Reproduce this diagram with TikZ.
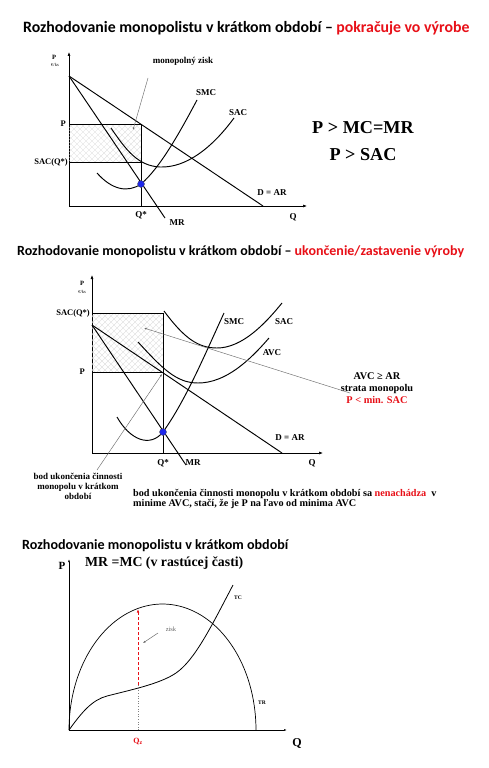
\documentclass[tikz,border=0pt]{standalone}
\usepackage{fontspec}
\setmainfont{Liberation Serif}
\newfontfamily\titlefont{Carlito}
\usetikzlibrary{arrows.meta}
\definecolor{redt}{RGB}{232,16,24}
\definecolor{dotblue}{RGB}{30,40,235}
\begin{document}
\begin{tikzpicture}[x=1pt,y=-1pt,
  curve/.style={line width=0.95pt},
  axisline/.style={line width=0.6pt,-{Latex[length=4pt,width=3pt]}},
  thin/.style={line width=0.6pt},
  leader/.style={line width=0.45pt,draw=gray!85!black},
  hatchline/.style={line width=0.35pt,draw=gray!28},
  lbl/.style={font=\bfseries\fontsize{9}{10}\selectfont,inner sep=0pt},
  small/.style={font=\fontsize{6.5}{7}\selectfont,inner sep=0pt},
  tiny/.style={font=\bfseries\fontsize{5}{6}\selectfont,inner sep=0pt},
  big/.style={font=\bfseries\fontsize{18.2}{20}\selectfont,inner sep=0pt},
  mid/.style={font=\bfseries\fontsize{10.3}{12}\selectfont,inner sep=0pt,align=center},
  note/.style={font=\bfseries\fontsize{9}{9.8}\selectfont,inner sep=0pt},
  ttl/.style={font=\titlefont\bfseries,inner sep=0pt,anchor=west},
  dot/.style={circle,fill=dotblue,draw=black!70,line width=0.3pt,inner sep=0pt,minimum size=7pt}]
\useasboundingbox[fill=white] (0,0) rectangle (488,768);

% ---------------- Title 1
\node[ttl,font=\titlefont\bfseries\fontsize{15.8}{17}\selectfont] (t1) at (23,28)
  {Rozhodovanie monopolistu v krátkom období – \textcolor{redt}{pokračuje vo výrobe}};

% ---------------- Graph 1
\coordinate (o1) at (69,206);
\coordinate (y1) at (69,52);
\coordinate (x1) at (307,206);
\draw[axisline] (o1) -- (y1);
\draw[axisline] (o1) -- (x1);
\node[small] (p1) at (54,57) {\bfseries P};
\node[tiny,font=\fontsize{4.5}{5}\selectfont] (e1) at (55,65) {€/ks};
% hatched rectangle
\begin{scope}
  \clip (69,124) rectangle (141,162);
  \foreach \k in {-60,-54,...,160} {
    \draw[hatchline] (69+\k,124) -- ++(40,40);
    \draw[hatchline] (69+\k,164) -- ++(40,-40);
  }
\end{scope}
\coordinate (a1) at (69,76);
\coordinate (d1) at (263,206);
\coordinate (m1) at (165,218);
\draw[curve] (a1) -- (d1);
\draw[curve] (a1) -- (m1);
\coordinate (pl1) at (69,124);
\coordinate (pr1) at (141,124);
\coordinate (sl1) at (69,162);
\coordinate (sr1) at (141,162);
\coordinate (q1) at (141,206);
\draw[thin] (pl1) -- (pr1) -- (q1);
\draw[thin] (sl1) -- (sr1);
% SMC
\draw[curve] (97,173) .. controls (112,190) and (128,193) .. (141,184) .. controls (160,168) and (180,132) .. (197,100);
% SAC
\draw[curve] (111,128) .. controls (126,150) and (138,166) .. (160,167) .. controls (186,168) and (212,148) .. (234,118);
\node[dot] (b1) at (141,184) {};
\node[lbl,anchor=east] (lp1) at (66,124) {\fontsize{8.5}{9}\selectfont P};
\node[lbl,anchor=east] (ls1) at (68,162) {\fontsize{8.5}{9}\selectfont SAC(Q*)};
\node[lbl] (lq1) at (141,215) {Q*};
\node[lbl] (lmr1) at (177,223) {MR};
\node[lbl] (lq1b) at (293,217) {Q};
\node[lbl] (ld1) at (272,193) {D = AR};
\node[lbl] (lsmc1) at (206,93) {SMC};
\node[lbl] (lsac1) at (238,113) {SAC};
\node[lbl] (mz) at (183,61) {monopolný zisk};
\coordinate (mzs) at (148,78);
\coordinate (mze) at (133,130);
\draw[leader,-{Latex[length=2.5pt,width=2pt]}] (mzs) -- (mze);
\node[big] (c1) at (363,128) {P > MC=MR};
\node[big] (c2) at (363,155) {P > SAC};

% ---------------- Title 2
\node[ttl,font=\titlefont\bfseries\fontsize{14}{16}\selectfont] (t2) at (17,252)
  {Rozhodovanie monopolistu v krátkom období – \textcolor{redt}{ukončenie/zastavenie výroby}};

% ---------------- Graph 2
\coordinate (o2) at (92,453);
\coordinate (y2) at (92,275);
\coordinate (x2) at (323,453);
\draw[axisline] (o2) -- (y2);
\draw[axisline] (o2) -- (x2);
\node[small] (p2) at (82,283) {\bfseries P};
\node[tiny,font=\fontsize{4.5}{5}\selectfont] (e2) at (82,292) {€/ks};
\begin{scope}
  \clip (92,313) rectangle (163,372);
  \foreach \k in {-80,-74,...,180} {
    \draw[hatchline] (92+\k,313) -- ++(60,60);
    \draw[hatchline] (92+\k,373) -- ++(60,-60);
  }
\end{scope}
\coordinate (a2) at (92,325);
\coordinate (d2) at (282,453);
\coordinate (m2) at (186,465);
\draw[curve] (a2) -- (d2);
\draw[curve] (a2) -- (m2);
\coordinate (sl2) at (92,313);
\coordinate (sr2) at (163,313);
\coordinate (pl2) at (92,372);
\coordinate (pr2) at (163,372);
\coordinate (q2) at (163,453);
\draw[thin] (sl2) -- (sr2) -- (q2);
\draw[thin] (pl2) -- (pr2);
% SMC
\draw[curve] (117,417) .. controls (130,440) and (150,448) .. (163,432) .. controls (186,400) and (206,352) .. (224,313);
% SAC
\draw[curve] (164,311) .. controls (184,338) and (198,348) .. (217,348) .. controls (242,348) and (265,324) .. (282,303);
% AVC
\draw[curve] (138,342) .. controls (162,368) and (176,383) .. (198,383) .. controls (226,383) and (250,360) .. (269,338);
\node[dot] (b2) at (163,432) {};
\node[lbl,anchor=east] (lsa2) at (90,313) {\fontsize{8.5}{9}\selectfont SAC(Q*)};
\node[lbl,anchor=east] (lp2) at (85,372) {\fontsize{8.5}{9}\selectfont P};
\node[lbl] (lsmc2) at (234,322) {SMC};
\node[lbl] (lsac2) at (284,322) {SAC};
\node[lbl] (lavc2) at (272,353) {AVC};
\node[lbl] (ld2) at (290,438) {D = AR};
\node[lbl] (lmr2) at (193,463) {MR};
\node[lbl] (lq2) at (163,463) {Q*};
\node[lbl] (lqq2) at (312,463) {Q};
\node[mid] (s1) at (377,388) {AVC ≥ AR\\strata monopolu\\\textcolor{redt}{P < min. SAC}};
\coordinate (hs) at (350,393);
\coordinate (he) at (144,328);
\draw[leader,-{Latex[length=2.5pt,width=2pt]}] (hs) -- (he);
\coordinate (bs) at (97,470);
\coordinate (be) at (162,374);
\draw[leader,-{Latex[length=2.5pt,width=2pt]}] (bs) -- (be);
\node[note,align=center,anchor=north] (bl) at (78,473) {bod ukončenia činnosti\\monopolu v krátkom\\období};
\node[note,align=left,anchor=north west,font=\bfseries\fontsize{10.2}{10}\selectfont] (br) at (133,489) {bod ukončenia činnosti monopolu v krátkom období sa \textcolor{redt}{nenachádza}\ \ v\\minime AVC, stačí, že je P na ľavo od minima AVC};

% ---------------- Title 3
\node[ttl,font=\titlefont\bfseries\fontsize{14.1}{16}\selectfont] (t3) at (22,546)
  {Rozhodovanie monopolistu v krátkom období};

% ---------------- Graph 3
\coordinate (o3) at (69,730);
\coordinate (y3) at (69,559);
\coordinate (x3) at (287,730);
\draw[thin,-{Latex[length=3pt,width=2pt]}] (o3) -- (y3);
\draw[thin,-{Latex[length=3pt,width=2pt]}] (o3) -- (x3);
\node[lbl,font=\bfseries\fontsize{11}{12}\selectfont] (p3) at (62,566) {P};
\node[lbl,font=\bfseries\fontsize{13.8}{15}\selectfont,anchor=west] (h3) at (85,563) {MR =MC (v rastúcej časti)};
% TR
\draw[line width=0.7pt] plot[domain=180:0,samples=80] ({162.5+93.5*cos(\x)},{730-126*sin(\x)});
% TC
\draw[line width=0.8pt] (o3) .. controls (82,712) and (92,700) .. (107,696) .. controls (130,690) and (160,684) .. (176,673) .. controls (195,660) and (212,625) .. (233,585);
\coordinate (zt) at (138,609);
\coordinate (zb) at (138,685);
\coordinate (zq) at (138,730);
\draw[redt,line width=0.9pt,dashed,dash pattern=on 3pt off 2pt,-{Latex[length=3.5pt,width=2.5pt]}] (zb) -- (zt);
\draw[gray,line width=0.6pt,dotted] (zq) -- (zb);
\node[tiny,font=\bfseries\fontsize{5.5}{6}\selectfont] (tc) at (238,598) {TC};
\node[tiny,font=\bfseries\fontsize{5.5}{6}\selectfont] (tr) at (262,703) {TR};
\node[small,text=gray!80!black] (zk) at (171,629) {zisk};
\coordinate (zks) at (158,633);
\coordinate (zke) at (143,643);
\draw[leader,-{Latex[length=2.5pt,width=2pt]}] (zks) -- (zke);
\node[lbl,text=redt,font=\bfseries\fontsize{8}{9}\selectfont] (qz) at (138,741) {Q\textsubscript{z}};
\node[lbl,font=\bfseries\fontsize{12}{13}\selectfont] (q3) at (297,743) {Q};
\end{tikzpicture}
\end{document}
